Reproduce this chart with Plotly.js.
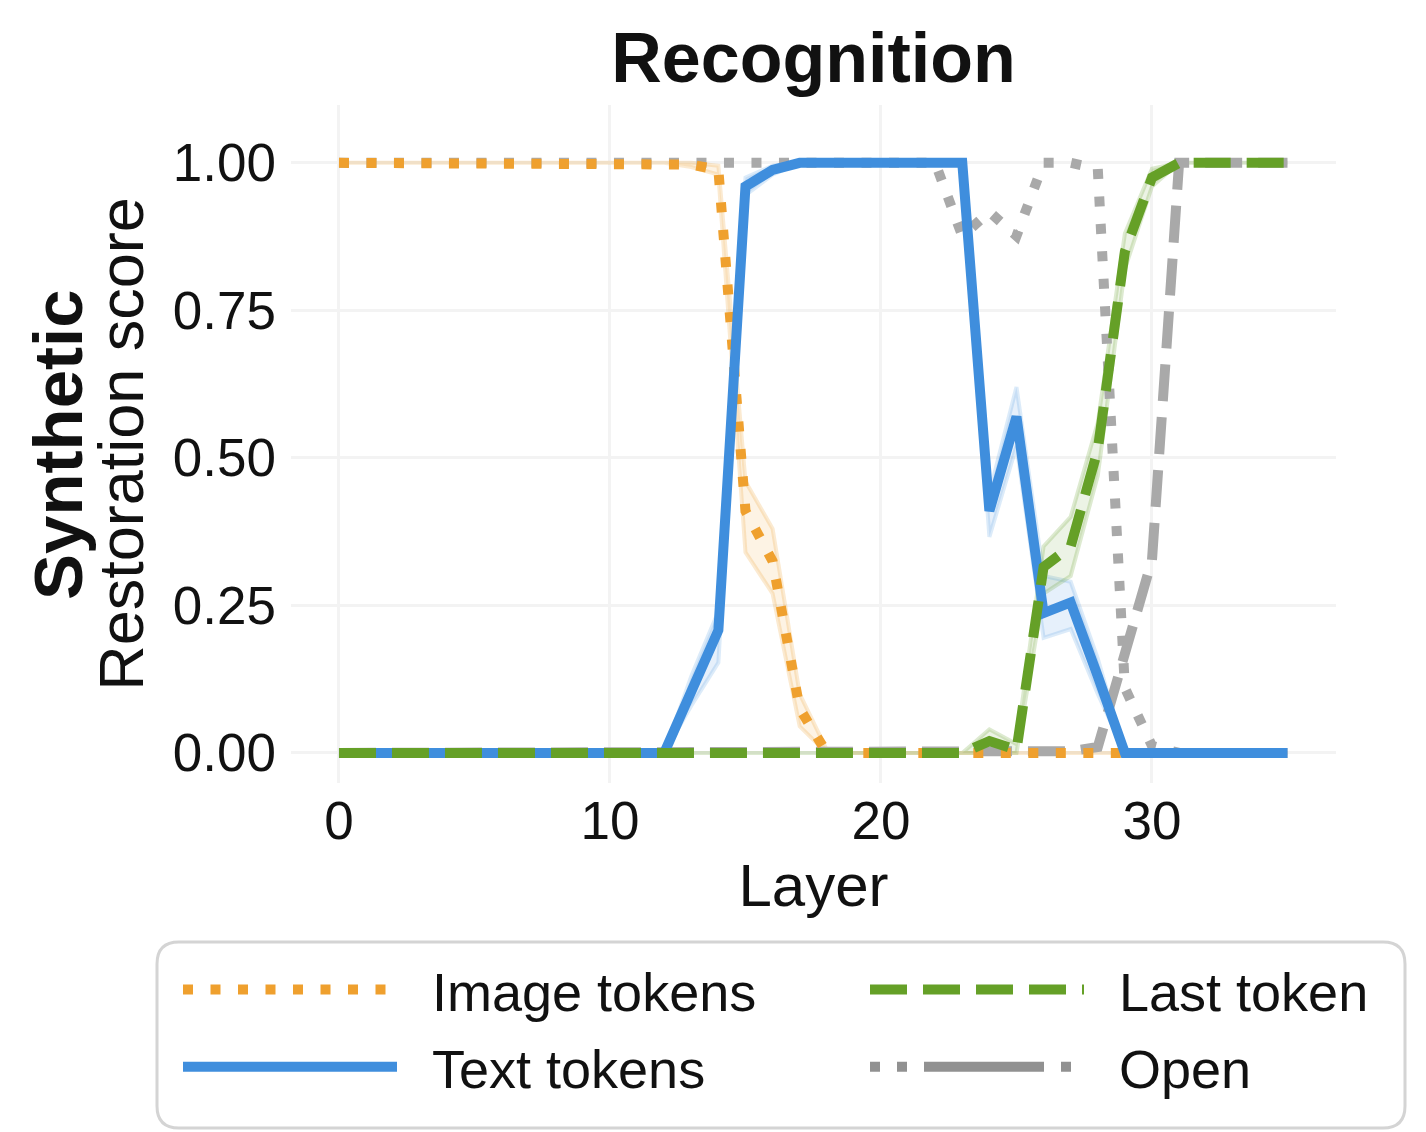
<!DOCTYPE html>
<html><head><meta charset="utf-8">
<script src="https://cdn.plot.ly/plotly-3.0.1.min.js"></script>
<style>html,body{margin:0;padding:0;background:#fff}#chart{width:1426px;height:1132px}</style>
</head><body><div id="chart"></div>
<script>
// ---------------- data ----------------
const layers = [0,1,2,3,4,5,6,7,8,9,10,11,12,13,14,15,16,17,18,19,20,21,22,23,24,25,26,27,28,29,30,31,32,33,34,35];

const imageTokens = [1,1,1,1,1,1,1,1,1,1,1,1,1,0.997,0.988,0.41,0.325,0.075,0,0,0,0,0,0,0,0,0,0,0,0,0,0,0,0,0,0];
const imageLo     = [1,1,1,1,1,1,1,1,1,1,1,1,1,0.993,0.98,0.34,0.27,0.045,0,0,0,0,0,0,0,0,0,0,0,0,0,0,0,0,0,0];
const imageHi     = [1,1,1,1,1,1,1,1,1,1,1,1,1,1,0.995,0.46,0.38,0.1,0.005,0,0,0,0,0,0,0,0,0,0,0,0,0,0,0,0,0];

const textTokens  = [0,0,0,0,0,0,0,0,0,0,0,0,0,0.104,0.208,0.96,0.988,1,1,1,1,1,1,1,0.41,0.57,0.237,0.255,0.13,0,0,0,0,0,0,0];
const textLo      = [0,0,0,0,0,0,0,0,0,0,0,0,0,0.08,0.153,0.945,0.98,1,1,1,1,1,1,1,0.366,0.52,0.195,0.21,0.1,0,0,0,0,0,0,0];
const textHi      = [0,0,0,0,0,0,0,0,0,0,0,0,0,0.13,0.24,0.975,0.995,1,1,1,1,1,1,1,0.44,0.62,0.3,0.29,0.16,0,0,0,0,0,0,0];

const lastToken   = [0,0,0,0,0,0,0,0,0,0,0,0,0,0,0,0,0,0,0,0,0,0,0,0,0.02,0.005,0.315,0.35,0.514,0.85,0.975,1,1,1,1,1];
const lastLo      = [0,0,0,0,0,0,0,0,0,0,0,0,0,0,0,0,0,0,0,0,0,0,0,0,0,0,0.27,0.3,0.47,0.82,0.96,1,1,1,1,1];
const lastHi      = [0,0,0,0,0,0,0,0,0,0,0,0,0,0,0,0,0,0,0,0,0,0,0,0,0.04,0.015,0.35,0.4,0.56,0.88,0.99,1,1,1,1,1];

const openImage   = [1,1,1,1,1,1,1,1,1,1,1,1,1,1,1,1,1,1,1,1,1,1,1,0.876,0.917,0.876,1,1,0.99,0.11,0.012,0,0,0,0,0];
const openLast    = [0,0,0,0,0,0,0,0,0,0,0,0,0,0,0,0,0,0,0,0,0,0,0,0,0,0,0,0.003,0.01,0.166,0.327,1,1,1,1,1];

const seriesNames = ['Image tokens','Last token','Text tokens','Open'];
const xTickVals = [0,10,20,30];
const xTickText = ['0','10','20','30'];
const yTickVals = [0,0.25,0.5,0.75,1];
const yTickText = ['0.00','0.25','0.50','0.75','1.00'];
const titleText = 'Recognition';
const rowLabel = 'Synthetic';
const yTitle = 'Restoration score';
const xTitle = 'Layer';

// ---------------- styles ----------------
const FONT = '"Liberation Sans", Arial, Helvetica, sans-serif';
const ORANGE = '#EFA02E', BLUE = '#3F8EDD', GREEN = '#65A027', GRAY = '#A9A9A9';
const DOT = '10px,17.5px';
const DASH = '37px,16px';
const PAD = '\u00A0\u00A0';   // gap between legend symbol and label

function band(lo, hi, fill, edge) {
  return {
    x: layers.concat(layers.slice().reverse()),
    y: hi.concat(lo.slice().reverse()),
    type: 'scatter', mode: 'lines', fill: 'toself',
    fillcolor: fill, line: {color: edge, width: 4},
    hoverinfo: 'skip', showlegend: false
  };
}

const traces = [
  band(imageLo, imageHi, 'rgba(239,160,46,0.13)', 'rgba(239,160,46,0.22)'),
  band(textLo, textHi, 'rgba(63,142,221,0.13)', 'rgba(63,142,221,0.18)'),
  band(lastLo, lastHi, 'rgba(101,160,39,0.12)', 'rgba(101,160,39,0.22)'),
  {x: layers, y: openImage, type:'scatter', mode:'lines', name:'Open (image)', showlegend:false,
   line:{color:GRAY, width:10, dash:DOT}},
  {x: layers, y: openLast, type:'scatter', mode:'lines', name:'Open (last)', showlegend:false,
   line:{color:GRAY, width:10, dash:DASH}},
  {x: layers, y: imageTokens, type:'scatter', mode:'lines', name:PAD + seriesNames[0],
   legend:'legend', legendgroup:'g1', legendrank:1,
   line:{color:ORANGE, width:10, dash:DOT}},
  {x: layers, y: textTokens, type:'scatter', mode:'lines', name:PAD + seriesNames[2],
   legend:'legend', legendgroup:'g2', legendrank:2,
   line:{color:BLUE, width:10}},
  {x: layers, y: lastToken, type:'scatter', mode:'lines', name:PAD + seriesNames[1],
   legend:'legend2', legendgroup:'g3', legendrank:1,
   line:{color:GREEN, width:10, dash:DASH}},
  {x: [null], y: [null], type:'scatter', mode:'lines', name:PAD + seriesNames[3],
   legend:'legend2', legendgroup:'g4', legendrank:2,
   line:{color:'#919191', width:10, dash:'10px,17px,10px,17px,120px,17px,10px,300px'}}
];

// legend box (rounded) in paper coordinates
const W = 1045, H = 678;
const bx0 = (157-291)/W, bx1 = (1405-291)/W, by0 = (783-942)/H, by1 = (783-1128)/H;
const rx = 22/W, ry = 22/H;
const boxPath = `M ${bx0+rx} ${by0} L ${bx1-rx} ${by0} Q ${bx1} ${by0} ${bx1} ${by0-ry} L ${bx1} ${by1+ry} Q ${bx1} ${by1} ${bx1-rx} ${by1} L ${bx0+rx} ${by1} Q ${bx0} ${by1} ${bx0} ${by1+ry} L ${bx0} ${by0-ry} Q ${bx0} ${by0} ${bx0+rx} ${by0} Z`;

const legendBase = {orientation: 'v', xanchor: 'left', yanchor: 'top',
  font: {size: 54, color: '#111111'}, itemwidth: 214, tracegroupgap: 4,
  bgcolor: 'rgba(0,0,0,0)', borderwidth: 0, traceorder: 'grouped'};

const layout = {
  width: 1426, height: 1132,
  margin: {l: 291, r: 90, t: 105, b: 349, pad: 0},
  paper_bgcolor: '#ffffff', plot_bgcolor: '#ffffff',
  font: {family: FONT, color: '#111111'},
  title: {text: '<b>' + titleText + '</b>', font: {family: FONT, size: 70, color: '#111111'},
          x: 0.5, xref: 'paper', xanchor: 'center', y: 1 - 57/1132, yref: 'container', yanchor: 'middle'},
  xaxis: {range: [-1.77, 36.79], tickvals: xTickVals, ticktext: xTickText, showgrid: true,
          gridcolor: '#f3f3f3', gridwidth: 3, zeroline: false, showline: false, ticks: '',
          tickfont: {size: 53, color: '#111111'}, ticklabelstandoff: 2,
          title: {text: xTitle, font: {size: 60, color: '#111111'}, standoff: 14}},
  yaxis: {range: [-0.051, 1.098], tickvals: yTickVals, ticktext: yTickText, showgrid: true,
          gridcolor: '#f3f3f3', gridwidth: 3, zeroline: false, showline: false, ticks: '',
          tickfont: {size: 53, color: '#111111'}, ticklabelstandoff: 14,
          title: {text: yTitle, font: {size: 63, color: '#111111'}, standoff: 8}},
  showlegend: true,
  legend: Object.assign({}, legendBase, {x: (178-291)/W, y: (783-948)/H}),
  legend2: Object.assign({}, legendBase, {x: (865-291)/W, y: (783-948)/H}),
  shapes: [{type: 'path', xref: 'paper', yref: 'paper', path: boxPath,
            line: {color: '#d4d4d4', width: 3}, fillcolor: 'rgba(0,0,0,0)', layer: 'below'}],
  annotations: [{text: '<b>' + rowLabel + '</b>', xref: 'paper', yref: 'paper',
                 x: (58-291)/W, y: (783-445)/H, xanchor: 'center', yanchor: 'middle',
                 textangle: -90, showarrow: false, font: {size: 69, color: '#111111'}}]
};

Plotly.newPlot('chart', traces, layout, {staticPlot: true, displayModeBar: false});
</script>
</body></html>
